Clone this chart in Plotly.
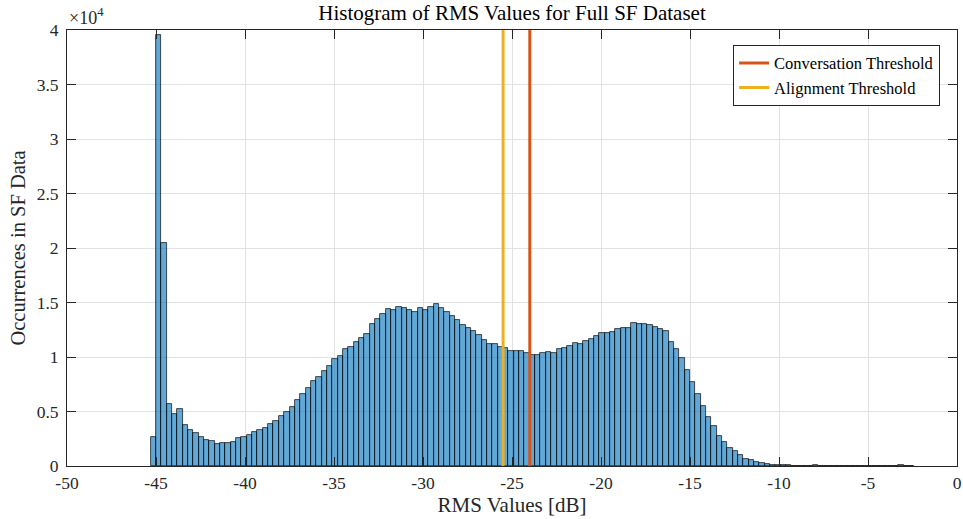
import plotly.graph_objects as go

# Histogram of RMS levels: bin edges start at -45.3 dB, 0.3 dB wide
bin_start = -45.3
bin_width = 0.3
counts = [
    2700, 39500, 20500, 5700, 4750, 5250, 3800, 3330, 3060, 2630,
    2380, 2290, 2050, 2140, 2140, 2230, 2570, 2690, 2840, 3150,
    3300, 3520, 3820, 4120, 4620, 4980, 5380, 6020, 6630, 7120,
    7760, 8160, 8710, 9200, 9810, 10120, 10760, 10910, 11400, 11770,
    12070, 12990, 13450, 13970, 14360, 14350, 14610, 14520, 14330, 14120,
    14480, 14270, 14600, 14820, 14480, 14150, 13720, 13420, 12960, 12680,
    12350, 12040, 11550, 11220, 11220, 10940, 10820, 10510, 10510, 10510,
    10360, 10170, 10170, 10360, 10480, 10360, 10760, 10820, 10970, 11250,
    11150, 11490, 11640, 11920, 12160, 12160, 12250, 12560, 12680, 12680,
    13110, 12990, 13020, 12960, 12710, 12530, 12380, 11400, 10760, 9870,
    8770, 7730, 6630, 5470, 4490, 3640, 2750, 2170, 1690, 1370,
    1010, 680, 510, 370, 310, 220, 130, 70, 60, 50,
    45, 40, 40, 45, 110, 35, 25, 20, 15, 12,
    10, 8, 8, 6, 6, 5, 5, 5, 4, 20,
    80, 10, 5,
]

conversation_threshold = -24.0
alignment_threshold = -25.5

x_ticks = [-50, -45, -40, -35, -30, -25, -20, -15, -10, -5, 0]
x_tick_text = ["-50", "-45", "-40", "-35", "-30", "-25", "-20", "-15", "-10", "-5", "0"]
y_ticks = [0, 5000, 10000, 15000, 20000, 25000, 30000, 35000, 40000]
y_tick_text = ["0", "0.5", "1", "1.5", "2", "2.5", "3", "3.5", "4"]

centers = [bin_start + bin_width * (i + 0.5) for i in range(len(counts))]

FONT = "Liberation Serif"
AXIS_COLOR = "#262626"

fig = go.Figure()
fig.add_trace(go.Bar(
    x=centers, y=counts, width=bin_width,
    marker=dict(color="rgba(0,114,189,0.62)",
                line=dict(color="rgba(0,0,0,0.85)", width=0.8)),
    showlegend=False, hoverinfo="skip",
))
fig.add_trace(go.Scatter(
    x=[conversation_threshold, conversation_threshold], y=[0, 40000],
    mode="lines", line=dict(color="#D95319", width=3),
    name="Conversation Threshold",
))
fig.add_trace(go.Scatter(
    x=[alignment_threshold, alignment_threshold], y=[0, 40000],
    mode="lines", line=dict(color="#EDB120", width=3),
    name="Alignment Threshold",
))

axis_common = dict(
    showline=True, linecolor=AXIS_COLOR, linewidth=1, mirror="ticks",
    ticks="inside", ticklen=9, tickcolor=AXIS_COLOR, tickwidth=1,
    showgrid=True, gridcolor="#E2E2E2", gridwidth=1, zeroline=False,
    automargin=False,
    tickfont=dict(family=FONT, size=17.5, color=AXIS_COLOR),
)

fig.update_layout(
    width=963, height=519,
    margin=dict(l=67, r=6, t=30, b=53),
    plot_bgcolor="white", paper_bgcolor="white",
    bargap=0,
    title=dict(text="Histogram of RMS Values for Full SF Dataset",
               x=(67 + 957) / 2 / 963, xanchor="center", y=0.975, yanchor="middle",
               font=dict(family=FONT, size=21, color="#000000")),
    xaxis=dict(range=[-50, 0], tickvals=x_ticks, ticktext=x_tick_text,
               ticklabelstandoff=1,
               title=dict(text="RMS Values [dB]", standoff=4,
                          font=dict(family=FONT, size=21, color=AXIS_COLOR)),
               **axis_common),
    yaxis=dict(range=[0, 40000], tickvals=y_ticks, ticktext=y_tick_text,
               ticklabelstandoff=4,
               title=dict(text="Occurrences in SF Data", standoff=5,
                          font=dict(family=FONT, size=20.5, color=AXIS_COLOR)),
               **axis_common),
    legend=dict(x=0.981, y=0.966, xanchor="right", yanchor="top",
                bgcolor="white", bordercolor=AXIS_COLOR, borderwidth=1,
                font=dict(family=FONT, size=16.5, color="#000000"),
                tracegroupgap=0),
    annotations=[dict(text="×10<sup>4</sup>", xref="paper", yref="paper",
                      x=0, y=1, xanchor="left", yanchor="bottom", yshift=0,
                      showarrow=False,
                      font=dict(family=FONT, size=18, color=AXIS_COLOR))],
)

fig.write_html("out.html")
